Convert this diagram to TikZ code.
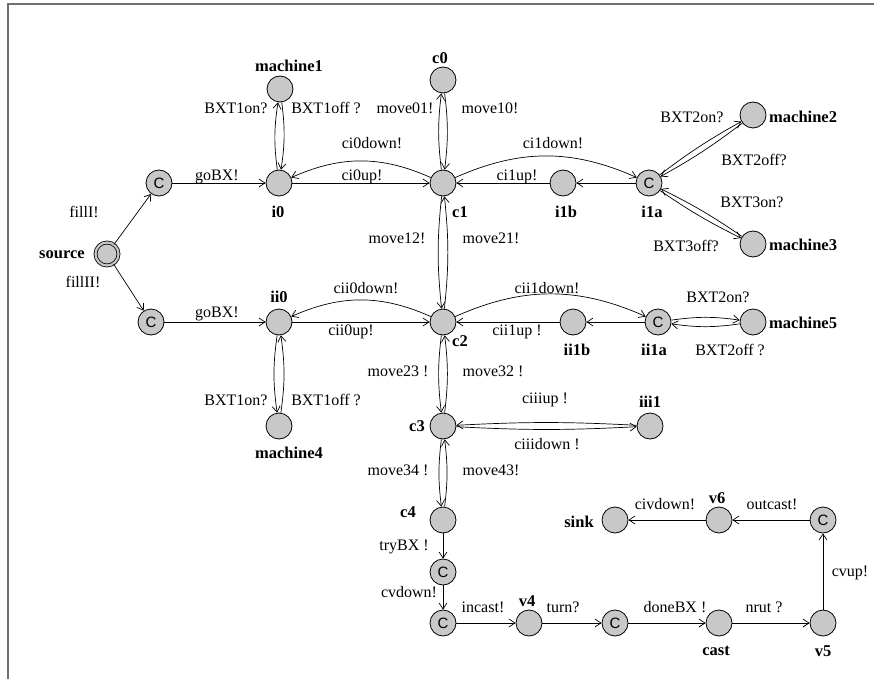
\documentclass[tikz,border=0pt]{standalone}
\usepackage{fontspec}
\setmainfont{Liberation Serif}
\newfontfamily\csans{Liberation Sans}
\usetikzlibrary{arrows.meta}
\definecolor{locgray}{RGB}{200,200,200}
\definecolor{framegray}{RGB}{112,112,112}
\begin{document}
\begin{tikzpicture}[x=1pt,y=-1pt,
  loc/.style={circle,draw,fill=locgray,minimum size=26pt,inner sep=0pt,line width=0.8pt},
  com/.style={loc,font=\csans\fontsize{15}{15}\selectfont},
  init/.style={loc,minimum size=23pt,double=locgray,double distance=2.2pt},
  tr/.style={line width=0.7pt,-{Straight Barb[length=6pt,width=8pt]}},
  nm/.style={font=\bfseries\fontsize{16.5}{16.5}\selectfont,inner sep=0pt},
  lb/.style={font=\fontsize{16}{16}\selectfont,inner sep=0pt}]
\useasboundingbox (0,0) rectangle (874,679);
% frame
\draw[framegray,line width=2pt] (8,679) -- (8,4) -- (874,4);

% locations
\node[init] (source) at (107,254) {};
\node[com] (cA) at (159,183) {C};
\node[com] (cB) at (151,322) {C};
\node[loc] (i0) at (279,183) {};
\node[loc] (m1) at (280,89) {};
\node[loc] (c0) at (443,80) {};
\node[loc] (c1) at (443,183) {};
\node[loc] (i1b) at (563,183) {};
\node[com] (i1a) at (649,183) {C};
\node[loc] (m2) at (753,115) {};
\node[loc] (m3) at (753,244) {};
\node[loc] (c2) at (443,322) {};
\node[loc] (ii0) at (279,322) {};
\node[loc] (m4) at (279,426) {};
\node[loc] (ii1b) at (573,322) {};
\node[com] (ii1a) at (658,322) {C};
\node[loc] (m5) at (753,322) {};
\node[loc] (c3) at (443,426) {};
\node[loc] (iii1) at (650,426) {};
\node[loc] (c4) at (443,520) {};
\node[com] (cC) at (443,572) {C};
\node[com] (cD) at (443,623) {C};
\node[loc] (v4) at (529,623) {};
\node[com] (cE) at (615,623) {C};
\node[loc] (cast) at (719,623) {};
\node[loc] (v5) at (823,623) {};
\node[com] (cF) at (823,520) {C};
\node[loc] (v6) at (719,520) {};
\node[loc] (sink) at (615,520) {};

% location names
\node[nm] (nmsource) at (62,255) {source};
\node[nm] (nmm1) at (289,66) {machine1};
\node[nm] (nmc0) at (440,58) {c0};
\node[nm] (nmi0) at (278,212) {i0};
\node[nm] (nmc1) at (460,212) {c1};
\node[nm] (nmi1b) at (566,212) {i1b};
\node[nm] (nmi1a) at (652,212) {i1a};
\node[nm,anchor=west] (nmm2) at (769,117) {machine2};
\node[nm,anchor=west] (nmm3) at (769,245) {machine3};
\node[nm,anchor=west] (nmm5) at (769,323) {machine5};
\node[nm] (nmii0) at (279,297) {ii0};
\node[nm] (nmc2) at (460,341) {c2};
\node[nm] (nmii1b) at (577,350) {ii1b};
\node[nm] (nmii1a) at (654,350) {ii1a};
\node[nm] (nmm4) at (289,453) {machine4};
\node[nm] (nmc3) at (417,426) {c3};
\node[nm] (nmiii1) at (650,402) {iii1};
\node[nm] (nmc4) at (408,512) {c4};
\node[nm] (nmv4) at (527,601) {v4};
\node[nm] (nmcast) at (716,651) {cast};
\node[nm] (nmv5) at (823,651) {v5};
\node[nm] (nmv6) at (717,498) {v6};
\node[nm] (nmsink) at (579,522) {sink};

% transitions
\draw[tr] (source) -- (cA);
\draw[tr] (source) -- (cB);
\draw[tr] (cA) -- (i0);
\draw[tr] (cB) -- (ii0);
\draw[tr] (i0) to[bend left=8] (m1);
\draw[tr] (m1) to[bend left=8] (i0);
\draw[tr] (c1) to[bend left=7] (c0);
\draw[tr] (c0) to[bend left=7] (c1);
\draw[tr] (i0) -- (c1);
\draw[tr] (c1) to[bend right=24] (i0);
\draw[tr] (c1) to[bend left=24] (i1a);
\draw[tr] (i1a) -- (i1b);
\draw[tr] (i1b) -- (c1);
\draw[tr] (i1a) to[bend left=4] (m2);
\draw[tr] (m2) to[bend left=4] (i1a);
\draw[tr] (m3) to[bend right=4] (i1a);
\draw[tr] (i1a) to[bend right=4] (m3);
\draw[tr] (c1) to[bend right=6] (c2);
\draw[tr] (c2) to[bend right=6] (c1);
\draw[tr] (ii0) -- (c2);
\draw[tr] (c2) to[bend right=24] (ii0);
\draw[tr] (c2) to[bend left=24] (ii1a);
\draw[tr] (ii1a) -- (ii1b);
\draw[tr] (ii1b) -- (c2);
\draw[tr] (ii1a) to[bend left=8] (m5);
\draw[tr] (m5) to[bend left=8] (ii1a);
\draw[tr] (ii0) to[bend right=8] (m4);
\draw[tr] (m4) to[bend right=8] (ii0);
\draw[tr] (c2) to[bend right=7] (c3);
\draw[tr] (c3) to[bend right=7] (c2);
\draw[tr] (iii1) to[bend right=3] (c3);
\draw[tr] (c3) to[bend right=3] (iii1);
\draw[tr] (c3) to[bend right=7] (c4);
\draw[tr] (c4) to[bend right=7] (c3);
\draw[tr] (c4) -- (cC);
\draw[tr] (cC) -- (cD);
\draw[tr] (cD) -- (v4);
\draw[tr] (v4) -- (cE);
\draw[tr] (cE) -- (cast);
\draw[tr] (cast) -- (v5);
\draw[tr] (v5) -- (cF);
\draw[tr] (cF) -- (v6);
\draw[tr] (v6) -- (sink);

% synchronisation labels
\node[lb] (lfillI) at (84,212) {fillI!};
\node[lb] (lfillII) at (83,282) {fillII!};
\node[lb] (lgoA) at (217,177) {goBX!};
\node[lb] (lgoB) at (217,314) {goBX!};
\node[lb] (lb1on) at (236,108) {BXT1on?};
\node[lb] (lb1off) at (326,108) {BXT1off ?};
\node[lb] (lm01) at (405,108) {move01!};
\node[lb] (lm10) at (490,108) {move10!};
\node[lb] (lci0d) at (372,143) {ci0down!};
\node[lb] (lci0u) at (362,177) {ci0up!};
\node[lb] (lci1d) at (553,143) {ci1down!};
\node[lb] (lci1u) at (517,177) {ci1up!};
\node[lb] (lb2on) at (692,117) {BXT2on?};
\node[lb] (lb2off) at (754,160) {BXT2off?};
\node[lb] (lb3on) at (752,202) {BXT3on?};
\node[lb] (lb3off) at (686,246) {BXT3off?};
\node[lb] (lm12) at (397,238) {move12!};
\node[lb] (lm21) at (491,238) {move21!};
\node[lb] (lcii0d) at (366,288) {cii0down!};
\node[lb] (lcii0u) at (351,332) {cii0up!};
\node[lb] (lcii1d) at (547,288) {cii1down!};
\node[lb] (lcii1u) at (517,332) {cii1up !};
\node[lb] (lb5on) at (718,297) {BXT2on?};
\node[lb] (lb5off) at (730,350) {BXT2off ?};
\node[lb] (lb4on) at (236,400) {BXT1on?};
\node[lb] (lb4off) at (326,400) {BXT1off ?};
\node[lb] (lm23) at (398,371) {move23 !};
\node[lb] (lm32) at (493,371) {move32 !};
\node[lb] (lciiiu) at (545,400) {ciiiup !};
\node[lb] (lciiid) at (547,444) {ciiidown !};
\node[lb] (lm34) at (398,470) {move34 !};
\node[lb] (lm43) at (491,470) {move43!};
\node[lb] (ltry) at (404,547) {tryBX !};
\node[lb] (lcvd) at (409,592) {cvdown!};
\node[lb] (linc) at (483,607) {incast!};
\node[lb] (lturn) at (563,607) {turn?};
\node[lb] (ldone) at (675,607) {doneBX !};
\node[lb] (lnrut) at (764,607) {nrut ?};
\node[lb] (lcvup) at (850,573) {cvup!};
\node[lb] (lout) at (772,504) {outcast!};
\node[lb] (lcivd) at (665,504) {civdown!};
\end{tikzpicture}
\end{document}
